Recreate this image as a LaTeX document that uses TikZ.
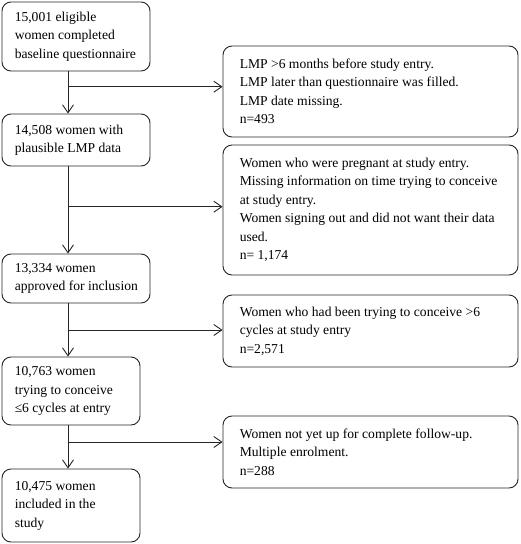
\documentclass[tikz,border=0pt]{standalone}
\usepackage{fontspec}
\setmainfont{Liberation Serif}
\usetikzlibrary{arrows.meta}
\begin{document}
\begin{tikzpicture}[x=1pt,y=-1pt,
  box/.style={draw=black!85, line width=0.9pt, rounded corners=9pt, inner sep=0pt},
  txt/.style={anchor=west, align=left, inner sep=0pt, font=\fontsize{13.6}{18.5}\selectfont},
  link/.style={draw=black!85, line width=0.9pt},
  arr/.style={link, -{Straight Barb[length=8pt,width=11pt,line width=0.9pt]}}]
\useasboundingbox (0,0) rectangle (520,544);
% left column boxes
\node[box, minimum width=148pt, minimum height=69pt] (b1) at (76,36.5) {};
\node[box, minimum width=148pt, minimum height=52pt] (b2) at (76,140) {};
\node[box, minimum width=148pt, minimum height=49pt] (b3) at (76,278.5) {};
\node[box, minimum width=138pt, minimum height=68pt] (b4) at (71,391) {};
\node[box, minimum width=138pt, minimum height=73pt] (b5) at (71,505.5) {};
% right column boxes
\node[box, minimum width=295pt, minimum height=91pt] (r1) at (370.5,91.5) {};
\node[box, minimum width=295pt, minimum height=130pt] (r2) at (370.5,210) {};
\node[box, minimum width=295pt, minimum height=72pt] (r3) at (370.5,331) {};
\node[box, minimum width=295pt, minimum height=72pt] (r4) at (370.5,452) {};
% texts
\node[txt] (b1t) at ([xshift=13pt]b1.west) {15,001 eligible\\women completed\\baseline questionnaire};
\node[txt] (b2t) at ([xshift=13pt]b2.west) {14,508 women with\\plausible LMP data};
\node[txt] (b3t) at ([xshift=13pt]b3.west) {13,334 women\\approved for inclusion};
\node[txt] (b4t) at ([xshift=13pt]b4.west) {10,763 women\\trying to conceive\\≤6 cycles at entry};
\node[txt] (b5t) at ([xshift=13pt]b5.west) {10,475 women\\included in the\\study};
\node[txt] (r1t) at ([xshift=17pt]r1.west) {LMP >6 months before study entry.\\LMP later than questionnaire was filled.\\LMP date missing.\\n=493};
\node[txt] (r2t) at ([xshift=17pt]r2.west) {Women who were pregnant at study entry.\\Missing information on time trying to conceive\\at study entry.\\Women signing out and did not want their data\\used.\\n= 1,174};
\node[txt] (r3t) at ([xshift=17pt]r3.west) {Women who had been trying to conceive >6\\cycles at study entry\\n=2,571};
\node[txt] (r4t) at ([xshift=17pt]r4.west) {Women not yet up for complete follow-up.\\Multiple enrolment.\\n=288};
% junctions
\coordinate (j1) at (68,86.7);
\coordinate (j2) at (68,206.7);
\coordinate (j3) at (68,330);
\coordinate (j4) at (68,442);
% connectors
\draw[arr] (j1 |- b1.south) -- (j1 |- b2.north);
\draw[arr] (j2 |- b2.south) -- (j2 |- b3.north);
\draw[arr] (j3 |- b3.south) -- (j3 |- b4.north);
\draw[arr] (j4 |- b4.south) -- (j4 |- b5.north);
\draw[arr] (j1) -- (j1 -| r1.west);
\draw[arr] (j2) -- (j2 -| r2.west);
\draw[arr] (j3) -- (j3 -| r3.west);
\draw[arr] (j4) -- (j4 -| r4.west);
\end{tikzpicture}
\end{document}
